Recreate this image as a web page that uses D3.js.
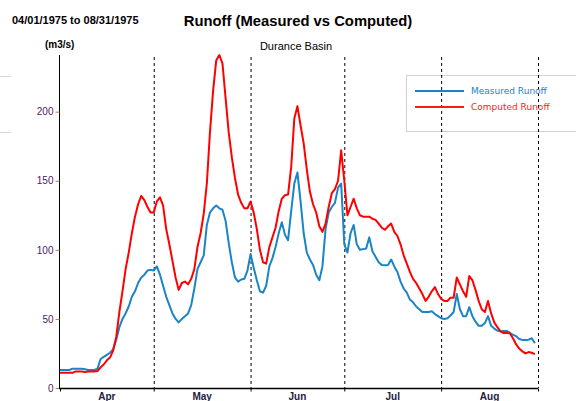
<!DOCTYPE html>
<html>
<head>
<meta charset="utf-8">
<script src="https://cdn.jsdelivr.net/npm/d3@7"></script>
<style>
  body { margin: 0; background: #fff; }
  svg { display: block; }
</style>
</head>
<body>
<div id="chart"></div>
<script>
// ------------------------- DATA -------------------------

let startDay = "1975-04-01"
let months = ["Apr", "May", "Jun", "Jul", "Aug"]
let monthStarts = ["1975-04-01", "1975-05-01", "1975-06-01", "1975-07-01", "1975-08-01", "1975-09-01"]
let yTicks = [0, 50, 100, 150, 200]

// daily runoff, m3/s, Apr 1 - Aug 31
let measured = [
  13, 13, 13, 13, 14, 14, 14, 14, 13.5, 13, 13, 13, 14, 21, 22.5, 24, 25.5, 28, 35, 44,
  50, 54, 59, 66, 70, 76, 80, 82, 85, 85.5, 85, 88, 82, 74, 66, 60, 54, 50, 47.5, 50,
  52, 54, 60, 72, 86, 91, 96, 118, 127, 130, 132, 130, 129, 121, 105, 91, 80, 77, 78.5, 79,
  85, 97, 87, 78, 70, 69, 74, 88, 94, 102, 112, 120, 111, 107, 128, 148, 156, 135, 112, 98,
  93, 89, 82, 78, 88, 115, 127, 131, 134, 145, 148, 104, 98, 112, 118, 104, 100, 100.5, 101, 109,
  99, 95, 91, 89, 88.8, 89, 93, 88, 84, 77, 72, 69, 64, 62, 59, 57, 55, 55, 55, 55.5,
  53.5, 52, 50.5, 50, 50.5, 52.5, 55, 68, 57, 52, 52, 58.5, 52, 48, 45, 45, 47, 52, 45, 43,
  41.5, 41, 41.3, 41.3, 40, 38.5, 37.5, 35.5, 34.8, 34.8, 35, 36, 32.5
]
let computed = [
  11, 11, 11, 11, 11, 12, 12, 12, 11.5, 12, 12, 12, 12.3, 15, 17, 20, 22, 27, 37, 55,
  70, 86, 98, 112, 124, 133, 139, 136, 131, 127, 127, 135, 138, 132, 115, 104, 92, 80, 71, 76,
  77, 75, 79, 86, 102, 112, 126, 148, 185, 215, 237, 241, 235, 210, 185, 167, 152, 140, 134, 130,
  130, 135, 127, 115, 100, 91, 90, 102, 109, 116, 128, 137, 139.5, 140, 160, 195, 204, 190, 177, 158,
  142, 133, 127, 117, 113, 119, 131, 141, 144, 150, 172, 150, 125, 131, 137, 130, 125, 124, 124, 124,
  122.5, 121.7, 119, 116, 114.5, 117, 119, 113, 110, 104, 96, 90, 84, 79, 76, 72, 68, 63, 66, 70,
  73, 68, 64.5, 63, 63, 65.4, 65.4, 80, 75, 70, 66, 81, 78, 71, 63, 57, 55, 63, 54, 47.5,
  44, 41, 39.8, 40, 39.5, 36, 31.5, 28.5, 26.5, 25, 26, 25.5, 24.5
]

// ------------------------- CHART -------------------------

let parse = d3.timeParse("%Y-%m-%d")
let day0 = parse(startDay)
let dayOf = i => d3.timeDay.offset(day0, i)

let svg = d3.select("#chart")
            .append("svg")
            .attr("width", 576)
            .attr("height", 401)
            .style("font-family", "Liberation Sans, Arial, sans-serif")

let x = d3.scaleTime()
          .domain([parse(monthStarts[0]), parse(monthStarts[5])])
          .range([60, 538])

let y = d3.scaleLinear()
          .domain([0, 241])
          .range([388, 55])

// stray grey lines at the left edge
svg.selectAll("line.edge")
   .data([76.5, 132.5])
   .enter()
   .append("line")
   .attr("x1", 0).attr("x2", 11)
   .attr("y1", d => d).attr("y2", d => d)
   .style("stroke", "#d8d8d8")

// titles
svg.append("text")
   .attr("x", 12).attr("y", 24)
   .style("font-size", "11px").style("font-weight", "bold")
   .text("04/01/1975 to 08/31/1975")

svg.append("text")
   .attr("x", 298).attr("y", 26)
   .attr("text-anchor", "middle")
   .style("font-size", "14.8px").style("font-weight", "bold")
   .text("Runoff (Measured vs Computed)")

svg.append("text")
   .attr("x", 296).attr("y", 50)
   .attr("text-anchor", "middle")
   .style("font-size", "11px")
   .text("Durance Basin")

svg.append("text")
   .attr("x", 45).attr("y", 48)
   .style("font-size", "10px").style("font-weight", "bold")
   .text("(m3/s)")

// dashed month separators
svg.selectAll("line.sep")
   .data(monthStarts.slice(1))
   .enter()
   .append("line")
   .attr("x1", d => x(parse(d)) + 0.5).attr("x2", d => x(parse(d)) + 0.5)
   .attr("y1", 57).attr("y2", 388)
   .style("stroke", "#000")
   .style("stroke-dasharray", "3,3")

// y axis
let yAxis = svg.append("g")
               .attr("transform", "translate(59.5,0)")
               .call(d3.axisLeft(y).tickValues(yTicks).tickSize(4).tickPadding(2))
yAxis.select(".domain").attr("d", "M0," + y.range()[1] + "V" + y.range()[0]).style("stroke", "#000")
yAxis.selectAll(".tick line").style("stroke", "#a09030")
yAxis.selectAll(".tick text").style("fill", "#502060").style("font-size", "10px")
     .style("font-family", "Liberation Sans, Arial, sans-serif")

// x axis
let xAxis = svg.append("g")
               .attr("transform", "translate(0,388.5)")
               .call(d3.axisBottom(x).tickValues(monthStarts.map(parse)).tickSize(3).tickFormat(""))
xAxis.select(".domain").attr("d", "M59," + 0 + "H" + 538).style("stroke", "#000").style("stroke-width", 1.5)

svg.selectAll("text.month")
   .data(months)
   .enter()
   .append("text")
   .attr("x", (d, i) => (x(parse(monthStarts[i])) + x(parse(monthStarts[i + 1]))) / 2)
   .attr("y", 400)
   .attr("text-anchor", "middle")
   .style("font-size", "10px").style("font-weight", "bold")
   .style("fill", "#202040")
   .text(d => d)

// series lines
let line = d3.line()
             .x((d, i) => x(dayOf(i)))
             .y(d => y(d))

svg.append("path")
   .datum(measured)
   .attr("d", line)
   .style("fill", "none")
   .style("stroke", "#1a84c6")
   .style("stroke-width", 2)
   .style("stroke-linejoin", "round")

svg.append("path")
   .datum(computed)
   .attr("d", line)
   .style("fill", "none")
   .style("stroke", "#ff0000")
   .style("stroke-width", 2)
   .style("stroke-linejoin", "round")

// legend
let legend = svg.append("g")
svg.append("rect")
   .attr("x", 406.5).attr("y", 75.5)
   .attr("width", 176).attr("height", 56)
   .style("fill", "#fff")
   .style("stroke", "#d4d0c8")
   .lower()

let legendItems = [
  {name: "Measured Runoff", color: "#1a84c6"},
  {name: "Computed Runoff", color: "#ff1a1a"}
]
legendItems.forEach((item, i) => {
  legend.append("line")
        .attr("x1", 415).attr("x2", 464)
        .attr("y1", 91 + i * 16).attr("y2", 91 + i * 16)
        .style("stroke", item.color)
        .style("stroke-width", 2)
  legend.append("text")
        .attr("x", 471).attr("y", 94 + i * 16)
        .style("font-size", "9px")
        .style("font-family", "DejaVu Sans, sans-serif")
        .style("fill", item.color)
        .text(item.name)
})
</script>
</body>
</html>
